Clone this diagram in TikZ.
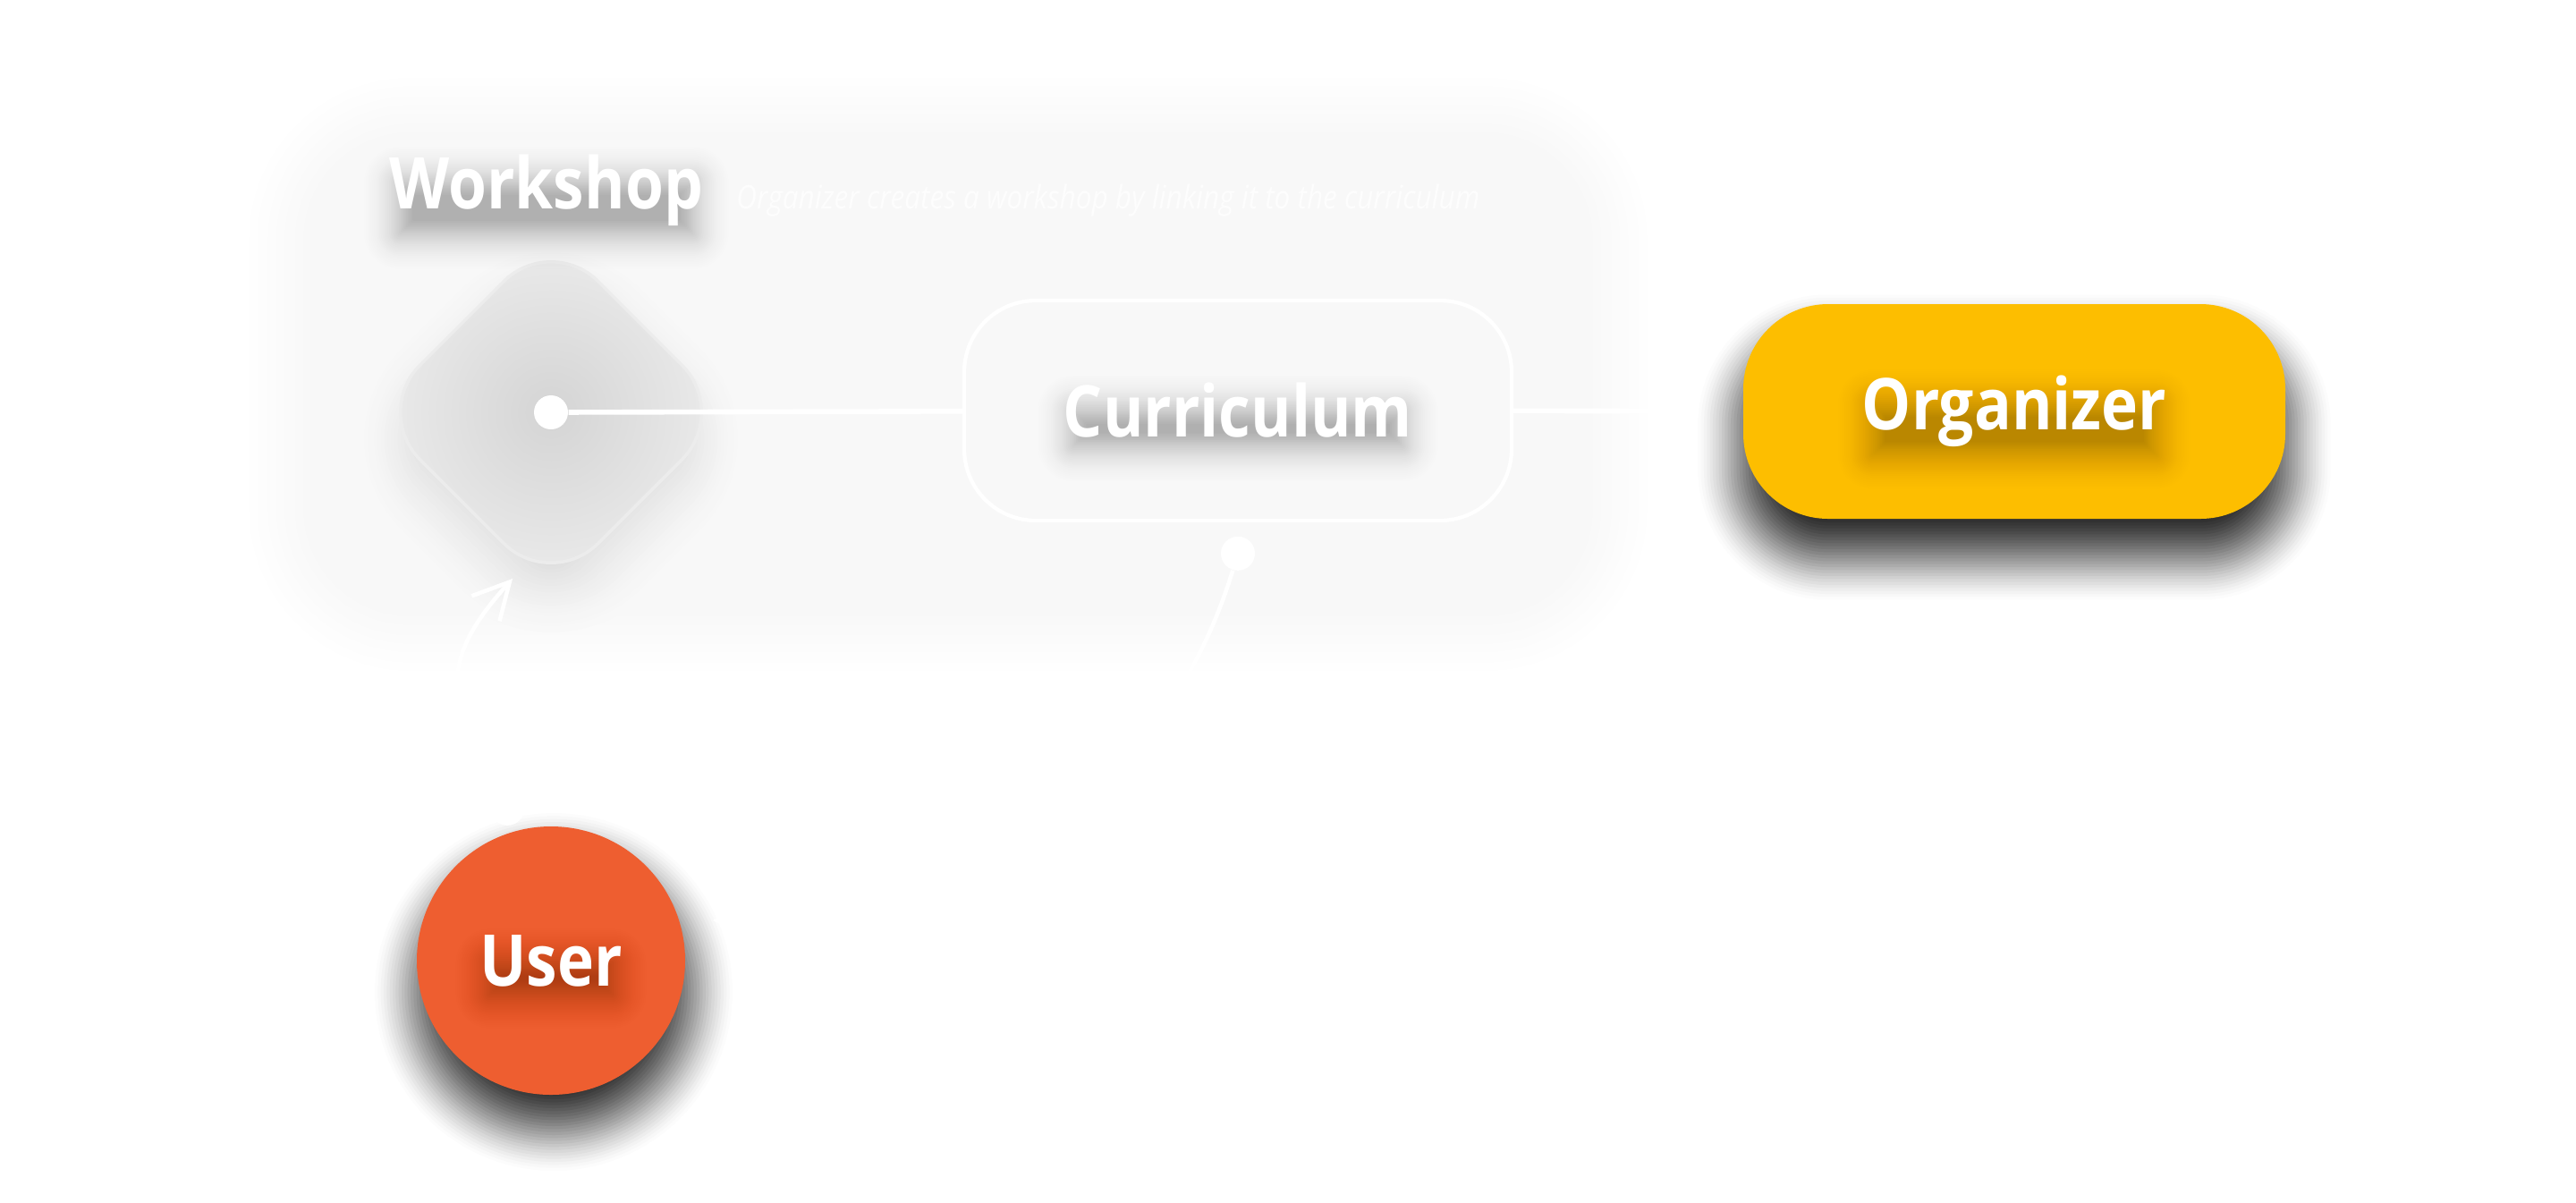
\documentclass[tikz,border=0pt]{standalone}
\usepackage{fontspec}
\setmainfont{Open Sans}[FakeStretch=0.87]
\usepackage{tikz}
\usetikzlibrary{arrows.meta,positioning,shapes.geometric,calc}

\definecolor{orgyellow}{HTML}{FDBE00}
\definecolor{userorange}{HTML}{EE5E30}
\definecolor{kitegray}{HTML}{D4D4D4}
\definecolor{kiteedge}{HTML}{ECECEC}
\definecolor{subtext}{HTML}{FDFDFD}

\pgfdeclarelayer{shadow}
\pgfdeclarelayer{front}
\pgfsetlayers{shadow,main,front}

% soft shadow of a node's box: node, corner, dx, dy, spread, step opacity
\newcommand{\boxglow}[6]{%
  \foreach \k in {0,...,29}{%
    \pgfmathsetmacro\spr{#5*(1-\k/15)}%
    \pgfmathsetmacro\crn{max(#2+\spr,0.01)}%
    \pgfmathsetmacro\opa{#6*(0.2+1.6*\k/29)}%
    \fill[black, opacity=\opa, rounded corners=\crn cm]
      ($(#1.south west)+(#3-\spr,#4-\spr)$) rectangle ($(#1.north east)+(#3+\spr,#4+\spr)$);
  }}

\begin{document}
\begin{tikzpicture}[
      lbl/.style={text=white, inner sep=0pt, font=\fontsize{22.7}{27}\selectfont\bfseries},
      sub/.style={text=subtext, inner sep=0pt, font=\fontsize{10.3}{12}\selectfont\itshape},
      panel/.style={rectangle, rounded corners=1.5cm, minimum width=15cm, minimum height=6cm},
      kite/.style={diamond, minimum size=4cm, inner sep=0pt, rounded corners=0.75cm, shade, shading=radial,
                   inner color=kitegray, outer color=kiteedge, draw=kiteedge, line width=1pt},
      curbox/.style={rectangle, rounded corners=0.8cm, draw=white, line width=1.2pt,
                     minimum width=6.12cm, minimum height=2.46cm},
      orgbox/.style={rectangle, rounded corners=0.95cm, fill=orgyellow, minimum width=6.06cm, minimum height=2.4cm},
      actor/.style={circle, fill=userorange, minimum size=3cm, inner sep=0pt},
      knob/.style={circle, fill=white, minimum size=0.38cm, inner sep=0pt},
      link/.style={white, line width=1.6pt},
      flow/.style={white, line width=1.3pt, -{Straight Barb[length=0.4cm, width=0.42cm]}},
    ]

    \useasboundingbox (0,0) rectangle (28.8,-13.44);

    % shapes
    \node[panel] (workshop) at (10.6,-4.185) {};
    \node[kite] (wsdiamond) at (6.16,-4.61) {};
    \node[curbox] (curr) at (13.84,-4.59) {};
    \node[orgbox] (org) at (22.52,-4.6) {};
    \node[actor] (user) at (6.16,-10.74) {};

    % texts
    \begin{pgfonlayer}{front}
      \node[lbl, anchor=base west] (wstitle) at (4.35,-2.33) {Workshop};
      \node[sub, anchor=base west] (wssub) at ($(wstitle.base east)+(0.36,0)$)
        {Organizer creates a workshop by linking it to the curriculum};
      \node[lbl] (currtxt) at (curr) {Curriculum};
      \node[lbl] (orgtxt) at (org) {Organizer};
      \node[lbl] (usertxt) at (user) {User};
    \end{pgfonlayer}

    % dots
    \node[knob] (wsdot) at (wsdiamond) {};
    \node[knob, below=0.15cm of curr] (cdot) {};
    \node[knob] (udot) at ($(user.center)+(106:1.77)$) {};
    \coordinate (wsin) at (5.73,-6.47);
    \coordinate (uin) at ($(user.center)+(1.81,0.45)$);

    % shadows
    \begin{pgfonlayer}{shadow}
      \fill[white] (0,0) rectangle (28.8,-13.44);
      % soft panel edge
      \foreach \k in {0,...,29}{
        \pgfmathsetmacro\spr{0.35*(1-\k/15)}
        \pgfmathsetmacro\pc{2.7*\k/29}
        \fill[black!\pc, rounded corners=(1.5+\spr)*1cm]
          ($(workshop.south west)+(-\spr,-\spr)$) rectangle ($(workshop.north east)+(\spr,\spr)$);
      }
      % glow under the diamond
      \foreach \k in {0,...,29}{
        \pgfmathsetmacro\spr{0.95*(1-\k/15)}
        \pgfmathsetmacro\pc{2.7+16*(\k/29)^1.4}
        \pgfmathsetmacro\crn{max(0.6+\spr,0.01)}
        \fill[black!\pc, rounded corners=\crn cm]
          ($(wsdiamond.center)+(0,1.85+\spr-0.3)$) -- ($(wsdiamond.center)+(1.85+\spr,-0.3)$)
          -- ($(wsdiamond.center)+(0,-1.85-\spr-0.3)$) -- ($(wsdiamond.center)+(-1.85-\spr,-0.3)$) -- cycle;
      }
      \draw[link] (curr) -- (org);
      \boxglow{org}{0.95}{0}{-0.4}{0.5}{0.061}
      \foreach \k in {0,...,29}{
        \pgfmathsetmacro\spr{0.5*(1-\k/15)}
        \pgfmathsetmacro\opa{0.061*(0.2+1.6*\k/29)}
        \fill[black, opacity=\opa] ($(user.center)+(0.03,-0.35)$) circle ({1.5+\spr});
      }
    \end{pgfonlayer}
    \boxglow{wstitle}{0.12}{0}{-0.2}{0.28}{0.01}
    \boxglow{currtxt}{0.12}{0}{-0.2}{0.28}{0.01}
    \boxglow{orgtxt}{0.12}{0}{-0.2}{0.28}{0.009}
    \boxglow{usertxt}{0.12}{0}{-0.2}{0.28}{0.009}

    % connections
    \draw[link] (wsdot) -- (curr);
    \draw[flow] (udot) to[out=120, in=228, looseness=1.3] (wsin);
    \draw[flow] (cdot) to[out=253, in=0] (uin);
  \end{tikzpicture}
\end{document}
